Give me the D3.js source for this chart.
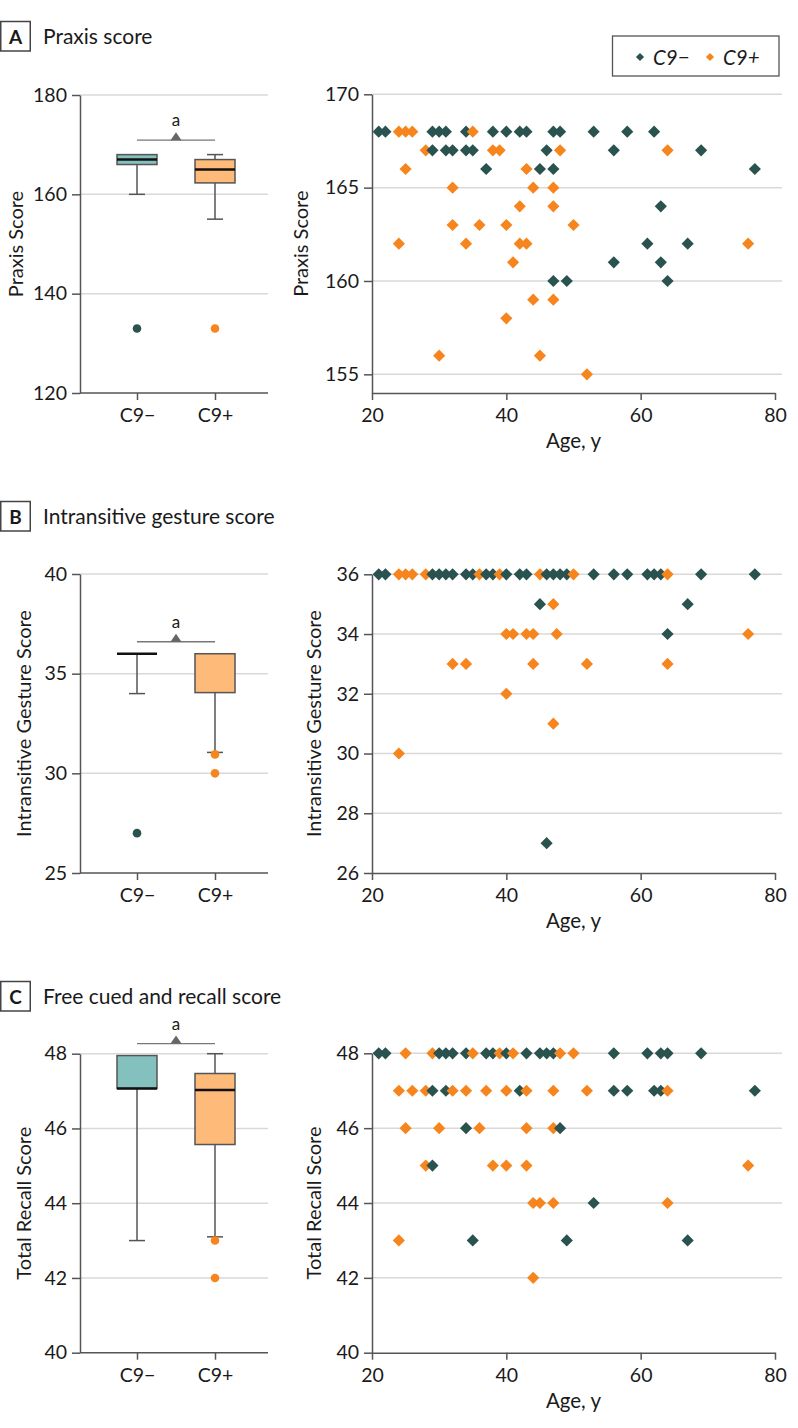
<!DOCTYPE html>
<html>
<head>
<meta charset="utf-8">
<script src="https://cdn.jsdelivr.net/npm/d3@7"></script>
<style>
  body { margin: 0; background: #fff; }
  svg { display: block; }
  text { font-family: Lato, "Noto Sans", sans-serif; fill: #1a1a1a; }
</style>
</head>
<body>
<svg id="chart" width="798" height="1428"></svg>
<script>
// ---------------- DATA ----------------
const groups = ["C9−", "C9+"];
const panelLetters = ["A", "B", "C"];
const panelTitles = ["Praxis score", "Intransitive gesture score", "Free cued and recall score"];
const yTitles = ["Praxis Score", "Intransitive Gesture Score", "Total Recall Score"];
const ageTicks = [20, 40, 60, 80];

// box plot summaries per panel: [C9−, C9+]
const boxA = [
  { q1: 166, median: 167, q3: 168, low: 160, high: 168, outliers: [133] },
  { q1: 162.3, median: 165, q3: 167, low: 155, high: 168, outliers: [133] }
];
const boxB = [
  { q1: 36, median: 36, q3: 36, low: 34, high: 36, outliers: [27] },
  { q1: 34.05, median: null, q3: 36, low: 31.05, high: 36, outliers: [30.95, 30] }
];
const boxC = [
  { q1: 47.07, median: 47.07, q3: 47.95, low: 43, high: 47.95, outliers: [] },
  { q1: 45.57, median: 47.03, q3: 47.47, low: 43.1, high: 48, outliers: [43, 42] }
];
const bracketValues = [170.9, 36.6, 48.27];

const boxTicksA = [120, 140, 160, 180];
const boxTicksB = [25, 30, 35, 40];
const boxTicksC = [40, 42, 44, 46, 48];
const scatTicksA = [155, 160, 165, 170];
const scatTicksB = [26, 28, 30, 32, 34, 36];
const scatTicksC = [40, 42, 44, 46, 48];

// scatter: score -> ages, per group
const scatANeg = [
  [168, [21, 22, 29, 30, 31, 34, 38, 40, 42, 43, 47, 48, 53, 58, 62]],
  [167, [29, 31, 32, 34, 35, 46, 56, 69]],
  [166, [37, 45, 47, 77]],
  [164, [63]],
  [162, [61, 67]],
  [161, [56, 63]],
  [160, [47, 49, 64]]
];
const scatAPos = [
  [168, [24, 25, 26, 35]],
  [167, [28, 38, 39, 48, 64]],
  [166, [25, 43]],
  [165, [32, 44, 47]],
  [164, [42, 47]],
  [163, [32, 36, 40, 50]],
  [162, [24, 34, 42, 43, 76]],
  [161, [41]],
  [159, [44, 47]],
  [158, [40]],
  [156, [30, 45]],
  [155, [52]]
];
const scatBNeg = [
  [36, [21, 22, 29, 30, 31, 32, 34, 35, 37, 38, 40, 42, 43, 46, 47, 48, 49, 53, 56, 58, 61, 62, 63, 69, 77]],
  [35, [45, 67]],
  [34, [64]],
  [27, [46]]
];
const scatBPos = [
  [36, [24, 25, 26, 28, 36, 39, 45, 50, 64]],
  [35, [47]],
  [34, [40, 41, 43, 44, 47.5, 76]],
  [33, [32, 34, 44, 52, 64]],
  [32, [40]],
  [31, [47]],
  [30, [24]]
];
const scatCNeg = [
  [48, [21, 22, 30, 31, 32, 34, 37, 38, 40, 43, 45, 46, 47, 56, 61, 63, 64, 69]],
  [47, [29, 31, 42, 56, 58, 62, 63, 77]],
  [46, [34, 48]],
  [45, [29]],
  [44, [53]],
  [43, [35, 49, 67]]
];
const scatCPos = [
  [48, [25, 29, 35, 39, 41, 48, 50]],
  [47, [24, 26, 28, 32, 34, 37, 40, 43, 47, 52, 64]],
  [46, [25, 30, 36, 43, 47]],
  [45, [28, 38, 40, 43, 76]],
  [44, [44, 45, 47, 64]],
  [43, [24]],
  [42, [44]]
];

// ---------------- STYLE / LAYOUT ----------------
const darkColor = "#2a5350";
const orangeColor = "#f7851d";
const boxFills = ["#84c1be", "#fdba79"];
const pointColors = [darkColor, orangeColor];
const gridColor = "#d9d9d9";
const axisColor = "#555";
const FONT = "Lato, 'Noto Sans', sans-serif";

const panels = [
  { top: 0, boxDomain: [120, 180], boxTicks: boxTicksA, box: boxA, boxY: [393, 95],
    scatDomain: [154, 170], scatTicks: scatTicksA, scatY: [393, 94.3], neg: scatANeg, pos: scatAPos,
    boxTitleX: 15, scatTitleX: 300 },
  { top: 480, boxDomain: [25, 40], boxTicks: boxTicksB, box: boxB, boxY: [873, 574],
    scatDomain: [26, 36], scatTicks: scatTicksB, scatY: [873, 574.3], neg: scatBNeg, pos: scatBPos,
    boxTitleX: 23, scatTitleX: 313 },
  { top: 960, boxDomain: [40, 48], boxTicks: boxTicksC, box: boxC, boxY: [1352.7, 1053.7],
    scatDomain: [40, 48], scatTicks: scatTicksC, scatY: [1352.7, 1053.3], neg: scatCNeg, pos: scatCPos,
    boxTitleX: 23, scatTitleX: 313 }
];

const svg = d3.select("#chart");
const boxLeft = 80, boxRight = 268;
const scatLeft = 372, scatRight = 775, gridRight = 782;
const xAge = d3.scaleLinear().domain([20, 80]).range([scatLeft, scatRight]);
const xGroup = d3.scalePoint().domain(groups).range([137, 215]);
const diamond = d3.symbol().type(d3.symbolSquare).size(74);

function styleAxis(g) {
  g.selectAll("path.domain").attr("stroke", axisColor).attr("stroke-width", 1.5);
  g.selectAll(".tick line").attr("stroke", axisColor).attr("stroke-width", 1.5);
  g.selectAll(".tick text").style("font-family", FONT).style("font-size", "19.5px").attr("fill", "#1a1a1a");
}

panels.forEach((p, i) => {
  const g = svg.append("g");
  // panel header
  g.append("rect").attr("x", 0.75).attr("y", p.top + 21.5).attr("width", 29.5).attr("height", 29.5)
    .attr("fill", "none").attr("stroke", "#444").attr("stroke-width", 1.5);
  g.append("text").attr("x", 15.5).attr("y", p.top + 43.5).attr("text-anchor", "middle")
    .style("font-size", "19px").style("font-weight", "bold").text(panelLetters[i]);
  g.append("text").attr("x", 43).attr("y", p.top + 44).style("font-size", "21px").text(panelTitles[i]);

  // ----- box plot -----
  const yb = d3.scaleLinear().domain(p.boxDomain).range(p.boxY);
  g.append("g").selectAll("line").data(p.boxTicks.slice(1)).join("line")
    .attr("x1", boxLeft).attr("x2", boxRight).attr("y1", d => yb(d)).attr("y2", d => yb(d))
    .attr("stroke", gridColor).attr("stroke-width", 1.5);

  const yAxB = g.append("g").attr("transform", `translate(${boxLeft},0)`)
    .call(d3.axisLeft(yb).tickValues(p.boxTicks).tickSize(8).tickSizeOuter(0).tickPadding(5));
  styleAxis(yAxB);
  const xAxB = g.append("g").attr("transform", `translate(0,${p.boxY[0]})`)
    .call(d3.axisBottom(xGroup).tickSize(7).tickSizeOuter(0).tickPadding(8));
  xAxB.select("path.domain").remove();
  styleAxis(xAxB);
  g.append("line").attr("x1", boxLeft).attr("x2", boxRight).attr("y1", p.boxY[0]).attr("y2", p.boxY[0])
    .attr("stroke", axisColor).attr("stroke-width", 1.5);

  g.append("text").attr("transform", `translate(${p.boxTitleX},${(p.boxY[0] + p.boxY[1]) / 2}) rotate(-90)`)
    .attr("text-anchor", "middle").attr("dominant-baseline", "central").style("font-size", "20px").text(yTitles[i]);

  p.box.forEach((b, k) => {
    const cx = xGroup(groups[k]);
    const bw = 40, cw = 16;
    const bg = g.append("g");
    if (b.low < b.q1) {
      bg.append("line").attr("x1", cx).attr("x2", cx).attr("y1", yb(b.q1)).attr("y2", yb(b.low))
        .attr("stroke", axisColor).attr("stroke-width", 1.5);
      bg.append("line").attr("x1", cx - cw / 2).attr("x2", cx + cw / 2).attr("y1", yb(b.low)).attr("y2", yb(b.low))
        .attr("stroke", axisColor).attr("stroke-width", 1.5);
    }
    if (b.high > b.q3) {
      bg.append("line").attr("x1", cx).attr("x2", cx).attr("y1", yb(b.q3)).attr("y2", yb(b.high))
        .attr("stroke", axisColor).attr("stroke-width", 1.5);
      bg.append("line").attr("x1", cx - cw / 2).attr("x2", cx + cw / 2).attr("y1", yb(b.high)).attr("y2", yb(b.high))
        .attr("stroke", axisColor).attr("stroke-width", 1.5);
    }
    if (b.q3 > b.q1) {
      bg.append("rect").attr("x", cx - bw / 2).attr("y", yb(b.q3)).attr("width", bw)
        .attr("height", yb(b.q1) - yb(b.q3)).attr("fill", boxFills[k]).attr("stroke", axisColor).attr("stroke-width", 1.5);
    }
    if (b.median !== null) {
      bg.append("line").attr("x1", cx - bw / 2).attr("x2", cx + bw / 2).attr("y1", yb(b.median)).attr("y2", yb(b.median))
        .attr("stroke", "#111").attr("stroke-width", 2.5);
    }
    bg.selectAll("circle").data(b.outliers).join("circle")
      .attr("cx", cx).attr("cy", d => yb(d)).attr("r", 4.3).attr("fill", pointColors[k]);
  });

  // significance bracket
  const by = yb(bracketValues[i]);
  const x0 = xGroup(groups[0]), x1 = xGroup(groups[1]), xm = (x0 + x1) / 2;
  g.append("line").attr("x1", x0).attr("x2", x1).attr("y1", by).attr("y2", by).attr("stroke", "#777").attr("stroke-width", 1.3);
  g.append("path").attr("d", `M${xm - 5.5},${by} L${xm + 5.5},${by} L${xm},${by - 8} Z`).attr("fill", "#666");
  g.append("text").attr("x", xm).attr("y", by - 14).attr("text-anchor", "middle").style("font-size", "17px").text("a");

  // ----- scatter -----
  const ys = d3.scaleLinear().domain(p.scatDomain).range(p.scatY);
  g.append("g").selectAll("line").data(p.scatTicks.filter(t => t !== p.scatDomain[0])).join("line")
    .attr("x1", scatLeft).attr("x2", gridRight).attr("y1", d => ys(d)).attr("y2", d => ys(d))
    .attr("stroke", gridColor).attr("stroke-width", 1.5);
  const yAxS = g.append("g").attr("transform", `translate(${scatLeft},0)`)
    .call(d3.axisLeft(ys).tickValues(p.scatTicks).tickSize(8).tickSizeOuter(0).tickPadding(5));
  styleAxis(yAxS);
  const xAxS = g.append("g").attr("transform", `translate(0,${p.scatY[0]})`)
    .call(d3.axisBottom(xAge).tickValues(ageTicks).tickSize(7).tickSizeOuter(0).tickPadding(8));
  styleAxis(xAxS);
  g.append("text").attr("transform", `translate(${p.scatTitleX},${(p.scatY[0] + p.scatY[1]) / 2}) rotate(-90)`)
    .attr("text-anchor", "middle").attr("dominant-baseline", "central").style("font-size", "20px").text(yTitles[i]);
  g.append("text").attr("x", (scatLeft + scatRight) / 2).attr("y", p.scatY[0] + 55).attr("text-anchor", "middle")
    .style("font-size", "20.5px").text("Age, y");

  const pts = [];
  [p.neg, p.pos].forEach((rows, k) => rows.forEach(([score, ages]) => ages.forEach(a => pts.push({ age: a, score, k }))));
  pts.sort((a, b) => a.age - b.age);
  g.append("g").selectAll("path").data(pts).join("path")
    .attr("d", diamond)
    .attr("transform", d => `translate(${xAge(d.age)},${ys(d.score)}) rotate(45)`)
    .attr("fill", d => pointColors[d.k]);
});

// legend
const lg = svg.append("g");
lg.append("rect").attr("x", 612.5).attr("y", 36).attr("width", 166.5).attr("height", 40)
  .attr("fill", "#fff").attr("stroke", "#555").attr("stroke-width", 1.3);
const legendSym = d3.symbol().type(d3.symbolSquare).size(34);
[[640, 653, 0], [710, 723, 1]].forEach(([sx, tx, k]) => {
  lg.append("path").attr("d", legendSym).attr("transform", `translate(${sx},57) rotate(45)`).attr("fill", pointColors[k]);
  lg.append("text").attr("x", tx).attr("y", 57).attr("dominant-baseline", "central")
    .style("font-size", "20.5px").style("font-style", "italic").text(groups[k]);
});
</script>
</body>
</html>
